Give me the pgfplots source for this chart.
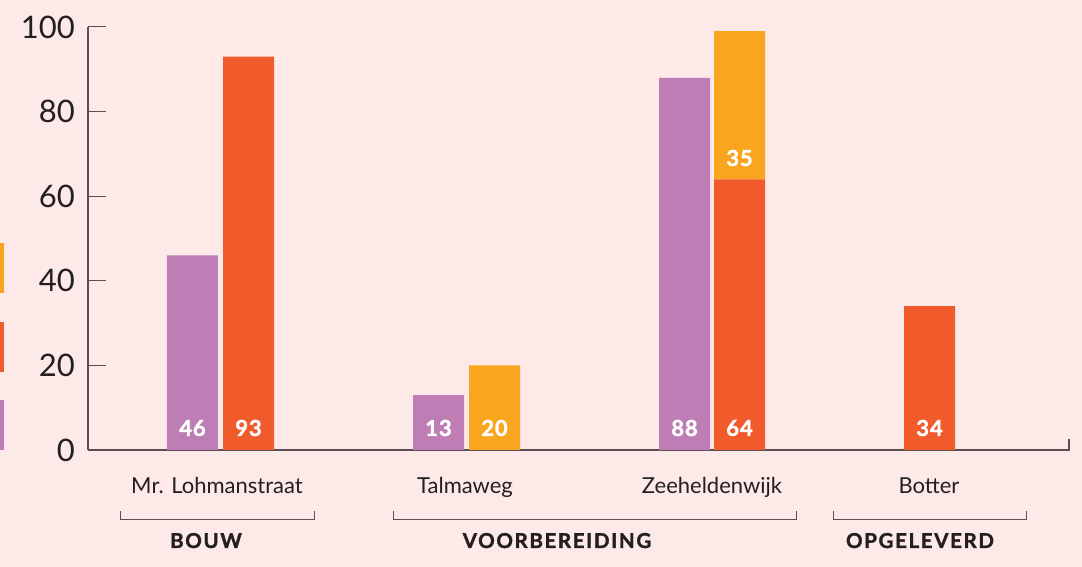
\documentclass[border=0pt]{standalone}
\usepackage{pgfplots}
\pgfplotsset{compat=1.18}
\usepackage{fontspec}
\setmainfont{Lato}
\newfontfamily\heavy[BoldFeatures={FakeBold=1.5}]{Lato}
\definecolor{bg}{HTML}{FDE9E7}
\definecolor{cpurple}{HTML}{BE7DB4}
\definecolor{cred}{HTML}{F15A2B}
\definecolor{corange}{HTML}{F9A51E}
\definecolor{axisgray}{HTML}{5A5052}
\definecolor{textcol}{HTML}{231F20}
\tikzset{barlab/.style={text=white, font=\heavy\bfseries\fontsize{22}{22}\selectfont},
  grplab/.style={text=textcol, anchor=base, inner sep=0pt, font=\heavy\bfseries\fontsize{20.5}{20.5}\selectfont}}
\begin{document}
\begin{tikzpicture}[x=1pt,y=1pt]
\fill[bg] (-88,-117) rectangle (994,450);
\useasboundingbox (-88,-117) rectangle (994,450);
\begin{axis}[
  scale only axis, width=982pt, height=423pt,
  xmin=88, xmax=1070, ymin=0, ymax=100,
  ybar stacked, bar width=51,
  axis x line=bottom, axis y line=left,
  axis line style={-, line width=1.3pt, draw=axisgray},
  ytick={0,20,40,60,80,100},
  tick align=inside,
  major tick length=18pt,
  ytick style={line width=1pt, draw=axisgray},
  xtick style={draw=none},
  xtick={217,465,712,929},
  xticklabels={Mr. Lohmanstraat,Talmaweg,Zeeheldenwijk,Botter},
  /pgf/number format/assume math mode=true,
  yticklabel style={font=\fontsize{31}{31}\selectfont, text=textcol, inner sep=0pt, anchor=east, xshift=-13pt},
  xticklabel style={font=\fontsize{22}{22}\selectfont, text=textcol, inner sep=0pt, anchor=base, yshift=-44pt},
  clip=false,
]
\addplot[fill=cpurple, draw=none] coordinates {(192.5,46) (248.5,0) (438.5,13) (494.5,0) (684.5,88) (739.5,0) (929.5,0)};
\addplot[fill=cred, draw=none] coordinates {(192.5,0) (248.5,93) (438.5,0) (494.5,0) (684.5,0) (739.5,64) (929.5,34)};
\addplot[fill=corange, draw=none] coordinates {(192.5,0) (248.5,0) (438.5,0) (494.5,20) (684.5,0) (739.5,35) (929.5,0)};
\end{axis}
\node[barlab] at (104.5,22) {\addfontfeature{LetterSpace=4}46};
\node[barlab] at (160.5,22) {\addfontfeature{LetterSpace=4}93};
\node[barlab] at (350.5,22) {\addfontfeature{LetterSpace=4}13};
\node[barlab] at (406.5,22) {\addfontfeature{LetterSpace=4}20};
\node[barlab] at (596.5,22) {\addfontfeature{LetterSpace=4}88};
\node[barlab] at (651.5,22) {\addfontfeature{LetterSpace=4}64};
\node[barlab] at (651.5,292) {\addfontfeature{LetterSpace=4}35};
\node[barlab] at (841.5,22) {\addfontfeature{LetterSpace=4}34};
\draw[axisgray, line width=1.2pt] (981,0)--(981,11);
\draw[axisgray, line width=1pt] (33,-61)--(33,-70)--(226,-70)--(226,-61);
\draw[axisgray, line width=1pt] (305,-61)--(305,-70)--(708,-70)--(708,-61);
\draw[axisgray, line width=1pt] (745,-61)--(745,-70)--(938,-70)--(938,-61);
\node[grplab] at (118,-98) {\addfontfeature{LetterSpace=8}BOUW};
\node[grplab] at (469,-98) {\addfontfeature{LetterSpace=8}VOORBEREIDING};
\node[grplab] at (832,-98) {\addfontfeature{LetterSpace=8}OPGELEVERD};
\fill[corange] (-88,157) rectangle (-84,207);
\fill[cred] (-88,78) rectangle (-84,128);
\fill[cpurple] (-88,0) rectangle (-84,50);
\end{tikzpicture}
\end{document}
